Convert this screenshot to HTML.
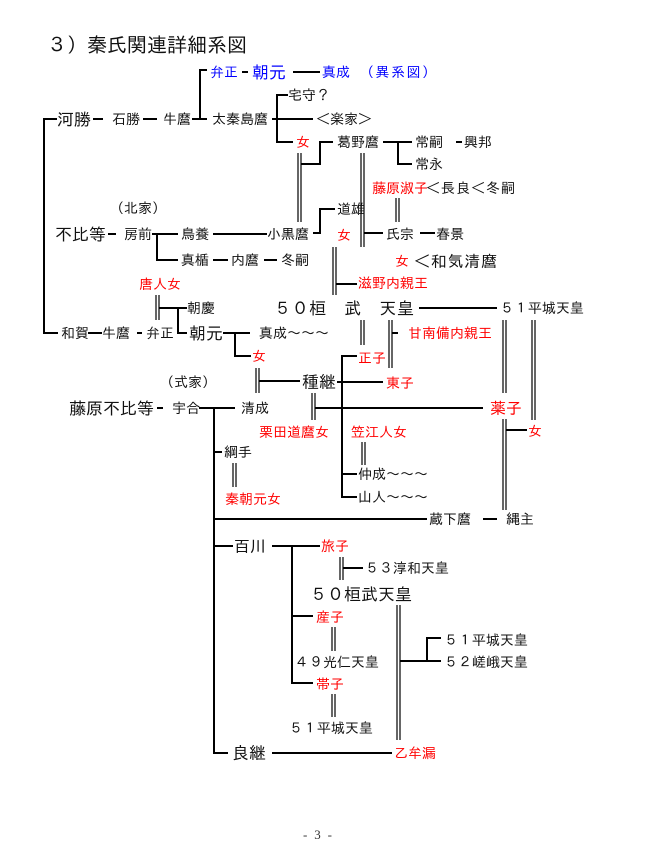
<!DOCTYPE html>
<html><head><meta charset="utf-8">
<style>
html,body{margin:0;padding:0;background:#fff;width:650px;height:850px;overflow:hidden}
svg text{font-family:"Liberation Sans","IPAGothic","Noto Sans CJK JP",sans-serif;font-size:14px;fill:#111}
svg text.r{fill:#f00}
svg text.u{fill:#00f}
svg text.b{font-size:17px}
svg text.m{font-size:16px}
svg text.pg{font-family:"Liberation Serif",serif;font-size:13px;fill:#333}
</style></head>
<body>
<svg width="650" height="850" viewBox="0 0 650 850" xmlns="http://www.w3.org/2000/svg">
<rect width="650" height="850" fill="#fff"/>

<!-- title -->
<text x="47" y="52" style="font-size:20px">３）秦氏関連詳細系図</text>

<!-- thick connectors -->
<g fill="none" stroke="#000" stroke-width="2" stroke-linejoin="miter">
<path d="M57,119 H44 V333 H58"/>
<path d="M207,70 H200 V119 M192,119 H207"/>
<path d="M242,72 H248 M293,72 H320"/>
<path d="M93,119 H103 M143,119 H157"/>
<path d="M288,95 H277 V142 H293 M272,119 H313"/>
<path d="M333,142 H320 V164 H301"/>
<path d="M383,142 H412 M398,142 V164 H412"/>
<path d="M456,142 H462"/>
<path d="M335,209 H320 V233 H313"/>
<path d="M364,233 H383"/>
<path d="M420,233 H435"/>
<path d="M108,234 H116"/>
<path d="M152,234 H178 M157,234 V260 H178"/>
<path d="M213,234 H267"/>
<path d="M213,260 H228 M264,260 H277"/>
<path d="M336,284 H357"/>
<path d="M159,308 H187 M178,308 V333 H187"/>
<path d="M419,308 H497"/>
<path d="M88,333 H102 M137,333 H142"/>
<path d="M223,333 H250 M235,333 V356 H251"/>
<path d="M392,333 H398"/>
<path d="M357,356 H342 V497 H357 M342,474 H357"/>
<path d="M259,381 H300"/>
<path d="M337,382 H383"/>
<path d="M157,408 H163"/>
<path d="M199,408 H235 M214,408 V753 H228"/>
<path d="M315,408 H483"/>
<path d="M506,430 H527"/>
<path d="M214,452 H222"/>
<path d="M214,519 H427"/>
<path d="M483,519 H497"/>
<path d="M214,546 H233"/>
<path d="M272,546 H320 M292,546 V683 H313 M292,616 H313"/>
<path d="M343,568 H363"/>
<path d="M400,661 H427 V638 H441 M427,661 H441"/>
<path d="M272,753 H392"/>
</g>

<!-- double lines (marriage) -->
<g stroke="#000" stroke-width="1.2">
<line x1="298" y1="153" x2="298" y2="222"/><line x1="301" y1="153" x2="301" y2="222"/>
<line x1="361" y1="153" x2="361" y2="247"/><line x1="364" y1="153" x2="364" y2="247"/>
<line x1="396" y1="198" x2="396" y2="222"/><line x1="399" y1="198" x2="399" y2="222"/>
<line x1="333" y1="247" x2="333" y2="295"/><line x1="336" y1="247" x2="336" y2="295"/>
<line x1="156" y1="295" x2="156" y2="320"/><line x1="159" y1="295" x2="159" y2="320"/>
<line x1="361" y1="320" x2="361" y2="345"/><line x1="364" y1="320" x2="364" y2="345"/>
<line x1="389" y1="320" x2="389" y2="368"/><line x1="392" y1="320" x2="392" y2="368"/>
<line x1="256" y1="368" x2="256" y2="393"/><line x1="259" y1="368" x2="259" y2="393"/>
<line x1="312" y1="393" x2="312" y2="420"/><line x1="315" y1="393" x2="315" y2="420"/>
<line x1="503" y1="320" x2="503" y2="393"/><line x1="506" y1="320" x2="506" y2="393"/>
<line x1="503" y1="419" x2="503" y2="510"/><line x1="506" y1="419" x2="506" y2="510"/>
<line x1="532" y1="320" x2="532" y2="420"/><line x1="535" y1="320" x2="535" y2="420"/>
<line x1="362" y1="442" x2="362" y2="465"/><line x1="365" y1="442" x2="365" y2="465"/>
<line x1="233" y1="463" x2="233" y2="487"/><line x1="236" y1="463" x2="236" y2="487"/>
<line x1="340" y1="557" x2="340" y2="580"/><line x1="343" y1="557" x2="343" y2="580"/>
<line x1="332" y1="627" x2="332" y2="651"/><line x1="335" y1="627" x2="335" y2="651"/>
<line x1="332" y1="694" x2="332" y2="717"/><line x1="335" y1="694" x2="335" y2="717"/>
<line x1="397" y1="605" x2="397" y2="740"/><line x1="400" y1="605" x2="400" y2="740"/>
</g>

<!-- labels -->
<text class="u" x="210" y="77">弁正</text>
<text class="u b" x="252" y="78.5">朝元</text>
<text class="u" x="322" y="77">真成</text>
<text class="u" x="360" y="77" textLength="76" lengthAdjust="spacing">（異系図）</text>

<text x="288" y="100">宅守？</text>
<text class="b" x="57" y="125.5">河勝</text>
<text x="112" y="124">石勝</text>
<text x="163" y="124">牛麿</text>
<text x="212" y="124">太秦島麿</text>
<text x="316" y="124">＜楽家＞</text>

<text class="r" x="296" y="147">女</text>
<text x="337" y="147">葛野麿</text>
<text x="415" y="147">常嗣</text>
<text x="464" y="147">興邦</text>
<text x="415" y="169">常永</text>

<text class="r" x="372" y="193">藤原淑子</text>
<text x="426" y="193" textLength="89" lengthAdjust="spacing">＜長良＜冬嗣</text>

<text x="110" y="213">（北家）</text>
<text x="337" y="214">道雄</text>

<text class="b" x="55" y="240.5">不比等</text>
<text x="124" y="239">房前</text>
<text x="181" y="239">鳥養</text>
<text x="267" y="239">小黒麿</text>
<text class="r" x="337" y="240">女</text>
<text x="386" y="239">氏宗</text>
<text x="436" y="239">春景</text>

<text x="181" y="265">真楯</text>
<text x="231" y="265">内麿</text>
<text x="281" y="265">冬嗣</text>
<text class="r" x="395" y="266">女</text>
<text class="m" x="414" y="267" textLength="83" lengthAdjust="spacing">＜和気清麿</text>

<text class="r" x="358" y="288">滋野内親王</text>
<text class="r" x="139" y="289">唐人女</text>

<text x="187" y="313">朝慶</text>
<text class="b" x="274" y="314.5" textLength="140" lengthAdjust="spacing">５０桓　武　天皇</text>
<text x="500" y="313">５１平城天皇</text>

<text x="61" y="338">和賀</text>
<text x="102" y="338">牛麿</text>
<text x="146" y="338">弁正</text>
<text class="b" x="189" y="339.5">朝元</text>
<text x="259" y="338">真成～～～</text>
<text class="r" x="408" y="338">甘南備内親王</text>

<text class="r" x="252" y="361">女</text>
<text class="r" x="358" y="363">正子</text>

<text x="160" y="387">（式家）</text>
<text class="b" x="302" y="388">種継</text>
<text class="r" x="386" y="388">東子</text>

<text class="b" x="69" y="414.5">藤原不比等</text>
<text x="172" y="413">宇合</text>
<text x="241" y="413">清成</text>
<text class="r m" x="490" y="414">薬子</text>

<text class="r" x="528" y="436">女</text>
<text class="r" x="259" y="437">栗田道麿女</text>
<text class="r" x="351" y="437">笠江人女</text>

<text x="224" y="457">綱手</text>
<text x="358" y="479">仲成～～～</text>
<text class="r" x="225" y="504">秦朝元女</text>
<text x="358" y="502">山人～～～</text>

<text x="429" y="524">蔵下麿</text>
<text x="506" y="524">縄主</text>

<text class="m" x="234" y="552">百川</text>
<text class="r" x="321" y="551">旅子</text>
<text x="365" y="573">５３淳和天皇</text>
<text class="b" x="310" y="600.5">５０桓武天皇</text>
<text class="r" x="316" y="622">産子</text>
<text x="444" y="645">５１平城天皇</text>
<text x="295" y="667">４９光仁天皇</text>
<text x="444" y="667">５２嵯峨天皇</text>
<text class="r" x="316" y="689">帯子</text>
<text x="289" y="733">５１平城天皇</text>

<text class="b" x="232" y="759">良継</text>
<text class="r" x="394" y="758">乙牟漏</text>

<text class="pg" x="303" y="839" textLength="29" lengthAdjust="spacing">- 3 -</text>
</svg>
</body></html>
